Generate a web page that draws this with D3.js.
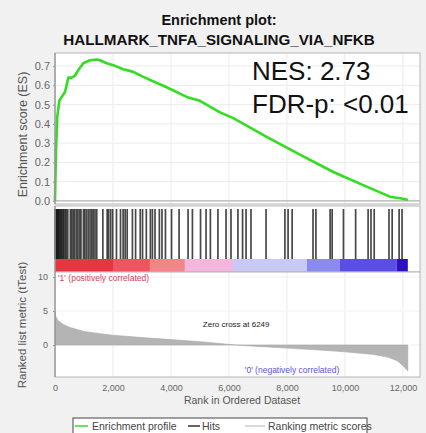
<!DOCTYPE html>
<html><head><meta charset="utf-8">
<script src="https://cdn.jsdelivr.net/npm/d3@7"></script>
<style>
html,body{margin:0;padding:0;background:#f1f1f1;}
svg{display:block;font-family:"Liberation Sans",Arial,sans-serif;}
</style></head>
<body>
<script>
// ---- data ----
const titleLines = ["Enrichment plot:", "HALLMARK_TNFA_SIGNALING_VIA_NFKB"];
const statLines = ["NES: 2.73", "FDR-p: <0.01"];
const xTicks = [0, 2000, 4000, 6000, 8000, 10000, 12000];
const esTicks = [0.0, 0.1, 0.2, 0.3, 0.4, 0.5, 0.6, 0.7];
const metricTicks = [0, 5, 10];
const nGenes = 12170;
const zeroCross = 6249;

const esRank  = [0, 34, 80, 150, 230, 345, 460, 575, 690, 805, 975, 1207, 1437, 1550, 1783, 2010, 2355, 2700, 3045, 3850, 4540, 5000, 5690, 6150, 7300, 8450, 9600, 10750, 11550, 11900, 12050, 12170];
const esValue = [0, 0.26, 0.44, 0.52, 0.54, 0.565, 0.64, 0.64, 0.65, 0.68, 0.715, 0.73, 0.734, 0.73, 0.715, 0.705, 0.684, 0.67, 0.644, 0.59, 0.54, 0.52, 0.46, 0.43, 0.333, 0.24, 0.15, 0.074, 0.022, 0.014, 0.01, 0.005];

const hitRanks = [5, 12, 20, 31, 45, 58, 72, 90, 110, 130, 155, 180, 210, 240, 275, 305,
  350, 390, 440, 530, 580, 630, 680, 740, 790, 850, 895, 980, 1030, 1090, 1150, 1210, 1270,
  1320, 1380, 1440, 1650, 1800, 1850, 1920, 1990, 2120, 2260, 2350, 2420, 2490, 2670, 2780,
  2940, 3020, 3150, 3290, 3360, 3450, 3600, 3690, 3810, 4020, 4280, 4590, 4740, 5020, 5210,
  5360, 5620, 5900, 6070, 6310, 6470, 6590, 6760, 7280, 7930, 8040, 8180, 8900, 9000, 9490,
  9560, 9950, 10370, 10800, 10900, 11010, 11520, 11630, 11870, 11970];

const metricRank  = [0, 30, 100, 300, 500, 1000, 1500, 2000, 3000, 4000, 5000, 6249, 7000, 8000, 9000, 10000, 11000, 11500, 11800, 12000, 12100, 12170];
const metricValue = [4.9, 4.2, 3.6, 3.0, 2.6, 2.0, 1.7, 1.45, 1.1, 0.8, 0.5, 0, -0.2, -0.45, -0.7, -1.0, -1.4, -1.8, -2.3, -3.0, -3.5, -3.8];

const colorBreaks = [0, 2000, 3275, 4480, 6140, 8690, 9830, 11790, 12170];
const colorFills  = ["#e8353f", "#ee5560", "#f28585", "#f4b6dc", "#c9c9f6", "#8b8bef", "#5a4ee6", "#2c10c2"];

const legendLabels = ["Enrichment profile", "Hits", "Ranking metric scores"];
const legendColors = ["#33dd22", "#333333", "#cccccc"];

// ---- drawing ----
const W = 426, H = 433;
const L = 55, R = 420;
const svg = d3.select("body").append("svg").attr("width", W).attr("height", H);
svg.append("rect").attr("width", W).attr("height", H).attr("fill", "#f1f1f1");

const x = d3.scaleLinear().domain([0, 12590]).range([L, R]);

// title
svg.selectAll("text.title").data(titleLines).join("text")
  .attr("x", 219).attr("y", (d, i) => 25 + i * 20)
  .attr("text-anchor", "middle").attr("font-weight", "bold")
  .attr("font-size", (d, i) => i === 0 ? 14.5 : 15.2).attr("fill", "#111").text(d => d);

// ---- ES panel ----
const esTop = 53, esBot = 204;
const yES = d3.scaleLinear().domain([-0.016, 0.768]).range([esBot, esTop]);
svg.append("rect").attr("x", L).attr("y", esTop).attr("width", R - L).attr("height", esBot - esTop)
  .attr("fill", "#fff");
const gES = svg.append("g");
gES.selectAll("line.vg").data(xTicks).join("line")
  .attr("x1", d => x(d)).attr("x2", d => x(d)).attr("y1", esTop).attr("y2", esBot)
  .attr("stroke", "#ececec");
gES.selectAll("line.hg").data(esTicks).join("line")
  .attr("x1", L).attr("x2", R).attr("y1", d => yES(d)).attr("y2", d => yES(d))
  .attr("stroke", d => d === 0 ? "#9a9a9a" : "#ececec");
svg.append("rect").attr("x", L).attr("y", esTop).attr("width", R - L).attr("height", esBot - esTop)
  .attr("fill", "none").attr("stroke", "#b5b5b5");
svg.append("line").attr("x1", L).attr("x2", L).attr("y1", esTop).attr("y2", esBot).attr("stroke", "#888");
const esPts = esRank.map((r, i) => [r, esValue[i]]);
gES.append("path").datum(esPts)
  .attr("d", d3.line().x(d => x(d[0])).y(d => yES(d[1])))
  .attr("fill", "none").attr("stroke", "#33dd22").attr("stroke-width", 2.6)
  .attr("stroke-linejoin", "round");
const yAxES = d3.axisLeft(yES).tickValues(esTicks).tickFormat(d3.format(".1f")).tickSize(2);
const gy = svg.append("g").attr("transform", `translate(${L},0)`).call(yAxES);
gy.select(".domain").remove();
gy.selectAll("line").attr("stroke", "#999");
gy.selectAll("text").attr("font-size", 11).attr("fill", "#666").attr("font-family", "Liberation Sans, Arial, sans-serif");
svg.append("text").attr("transform", `translate(27,${(esTop + esBot) / 2 + 6}) rotate(-90)`)
  .attr("text-anchor", "middle").attr("font-size", 12.5).attr("fill", "#555").text("Enrichment score (ES)");
svg.selectAll("text.stat").data(statLines).join("text")
  .attr("x", 252).attr("y", (d, i) => 80 + i * 33)
  .attr("font-size", 26).attr("fill", "#111").text(d => d);

// ---- hits panel ----
const hTop = 206, hBot = 259, cBot = 272;
svg.append("rect").attr("x", L).attr("y", hTop).attr("width", R - L).attr("height", cBot - hTop).attr("fill", "#fff");
svg.selectAll("line.hvg").data(xTicks).join("line")
  .attr("x1", d => x(d)).attr("x2", d => x(d)).attr("y1", hTop).attr("y2", hBot).attr("stroke", "#ececec");
svg.selectAll("line.hit").data(hitRanks).join("line")
  .attr("x1", d => x(d)).attr("x2", d => x(d)).attr("y1", hTop + 3).attr("y2", hBot)
  .attr("stroke", "#1a1a1a").attr("stroke-width", 1.7).attr("stroke-opacity", 0.8);
const segs = colorFills.map((c, i) => ({a: colorBreaks[i], b: colorBreaks[i + 1], c}));
svg.selectAll("rect.cb").data(segs).join("rect")
  .attr("x", d => x(d.a)).attr("width", d => x(d.b) - x(d.a))
  .attr("y", hBot).attr("height", cBot - hBot).attr("fill", d => d.c);
svg.append("rect").attr("x", L).attr("y", hTop).attr("width", R - L).attr("height", cBot - hTop)
  .attr("fill", "none").attr("stroke", "#b5b5b5");

// ---- ranked metric panel ----
const mTop = 272, mBot = 377;
const yM = d3.scaleLinear().domain([-4.7, 10.74]).range([mBot, mTop]);
svg.append("rect").attr("x", L).attr("y", mTop).attr("width", R - L).attr("height", mBot - mTop).attr("fill", "#fff");
svg.selectAll("line.mvg").data(xTicks).join("line")
  .attr("x1", d => x(d)).attr("x2", d => x(d)).attr("y1", mTop).attr("y2", mBot).attr("stroke", "#ececec");
svg.selectAll("line.mhg").data(metricTicks).join("line")
  .attr("x1", L).attr("x2", R).attr("y1", d => yM(d)).attr("y2", d => yM(d)).attr("stroke", "#f0f0f0");
const mPts = metricRank.map((r, i) => [r, metricValue[i]]);
svg.append("path").datum(mPts)
  .attr("d", d3.area().x(d => x(d[0])).y0(yM(0)).y1(d => yM(d[1])))
  .attr("fill", "#b4b4b4").attr("stroke", "#a8a8a8").attr("stroke-width", 0.6);
svg.append("rect").attr("x", L).attr("y", mTop).attr("width", R - L).attr("height", mBot - mTop)
  .attr("fill", "none").attr("stroke", "#b5b5b5");
svg.append("line").attr("x1", L).attr("x2", L).attr("y1", hTop).attr("y2", mBot).attr("stroke", "#888");
const gm = svg.append("g").attr("transform", `translate(${L},0)`)
  .call(d3.axisLeft(yM).tickValues(metricTicks).tickSize(2));
gm.select(".domain").remove();
gm.selectAll("line").attr("stroke", "#999");
gm.selectAll("text").attr("font-size", 9).attr("fill", "#666").attr("font-family", "Liberation Sans, Arial, sans-serif").attr("dx", -2);
svg.append("text").attr("transform", `translate(26,${325}) rotate(-90)`)
  .attr("text-anchor", "middle").attr("font-size", 11.5).attr("fill", "#555").text("Ranked list metric (tTest)");
svg.append("text").attr("x", 58).attr("y", 281).attr("font-size", 8.5).attr("fill", "#d0445a")
  .text("'1' (positively correlated)");
svg.append("text").attr("x", x(zeroCross)).attr("y", 327).attr("text-anchor", "middle")
  .attr("font-size", 8).attr("fill", "#222").text("Zero cross at " + zeroCross);
svg.append("text").attr("x", 292).attr("y", 373).attr("text-anchor", "middle").attr("font-size", 8.5)
  .attr("fill", "#5b55d6").text("'0' (negatively correlated)");

// x axis
const gx = svg.append("g").attr("transform", `translate(0,${mBot})`)
  .call(d3.axisBottom(x).tickValues(xTicks).tickFormat(d3.format(",")).tickSize(0));
gx.select(".domain").remove();
gx.selectAll("text").attr("font-size", 9).attr("fill", "#666").attr("dy", "1.2em").attr("font-family", "Liberation Sans, Arial, sans-serif");
svg.append("text").attr("x", 242).attr("y", 404).attr("text-anchor", "middle")
  .attr("font-size", 10.5).attr("fill", "#555").text("Rank in Ordered Dataset");

// legend
svg.append("rect").attr("x", 73).attr("y", 418).attr("width", 294).attr("height", 20)
  .attr("fill", "#fff").attr("stroke", "#444");
const legX = [75, 188, 245];
const legW = [13, 12, 20];
const legT = [92, 202, 268];
legendLabels.forEach((lab, i) => {
  svg.append("line").attr("x1", legX[i]).attr("x2", legX[i] + legW[i]).attr("y1", 426).attr("y2", 426)
    .attr("stroke", legendColors[i]).attr("stroke-width", 1.5);
  svg.append("text").attr("x", legT[i]).attr("y", 430).attr("font-size", 10.5).attr("fill", "#444").text(lab);
});
</script>
</body></html>
